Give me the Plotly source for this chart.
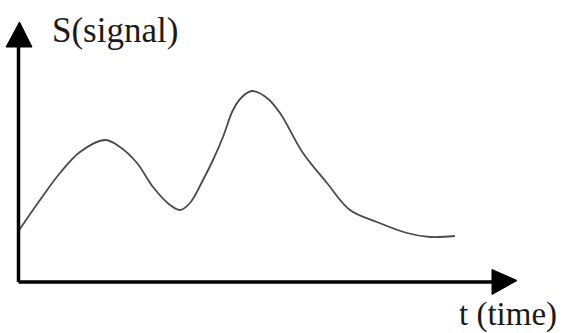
import plotly.graph_objects as go

# Sampled signal S(t) (arbitrary units)
t_vals = [0, 21.5, 41.5, 61.5, 86.5, 101.5, 118.5, 134.5, 151.5, 161.5,
          171.5, 184.5, 194.5, 204.5, 214.5, 223.5, 233.5, 248.5, 261.5,
          284.5, 308.5, 331.5, 358.5, 388.5, 411.5, 436.5]
s_vals = [51, 82, 109, 130, 142, 135, 119, 95, 77, 72,
          79, 102, 122, 145, 172, 185, 191, 184, 169,
          129, 99, 72, 60, 49, 45, 46]

x_label = "t (time)"
y_label = "S(signal)"

# Axis geometry (data units)
T_AXIS_END = 474.5
T_ARROW_TIP = 498.5
S_AXIS_END = 235
S_ARROW_TIP = 260
HEAD = 12.5

W, H = 563, 333
X_RANGE = [-18.5, W - 18.5]
Y_RANGE = [282 - H, 282]

fig = go.Figure()

fig.add_trace(go.Scatter(
    x=t_vals, y=s_vals, mode="lines",
    line=dict(color="#4a4a4a", width=1.8, shape="spline", smoothing=1.0),
    hoverinfo="skip", showlegend=False,
))

shapes = [
    # time axis
    dict(type="line", x0=0, y0=0, x1=T_AXIS_END, y1=0,
         line=dict(color="black", width=3.5)),
    # signal axis
    dict(type="line", x0=0, y0=0, x1=0, y1=S_AXIS_END,
         line=dict(color="black", width=3.5)),
    # arrowheads
    dict(type="path",
         path=f"M {T_AXIS_END-1} {HEAD} L {T_ARROW_TIP} 1.5 L {T_AXIS_END-1} {-HEAD} Z",
         fillcolor="black", line=dict(color="black", width=1)),
    dict(type="path",
         path=f"M {-HEAD} {S_AXIS_END} L 1 {S_ARROW_TIP} L {HEAD+1} {S_AXIS_END} Z",
         fillcolor="black", line=dict(color="black", width=1)),
]

fig.update_layout(
    width=W, height=H,
    margin=dict(l=0, r=0, t=0, b=0),
    paper_bgcolor="white", plot_bgcolor="white",
    xaxis=dict(range=X_RANGE, visible=False, fixedrange=True),
    yaxis=dict(range=Y_RANGE, visible=False, fixedrange=True),
    shapes=shapes,
    annotations=[
        dict(x=31.5, y=252, text=y_label, showarrow=False,
             xanchor="left", yanchor="middle",
             font=dict(family="Liberation Serif", size=35, color="#1a1a1a")),
        dict(x=438.5, y=-32, text=x_label, showarrow=False,
             xanchor="left", yanchor="middle",
             font=dict(family="Liberation Serif", size=33, color="#1a1a1a")),
    ],
)

fig.write_html("out.html")
